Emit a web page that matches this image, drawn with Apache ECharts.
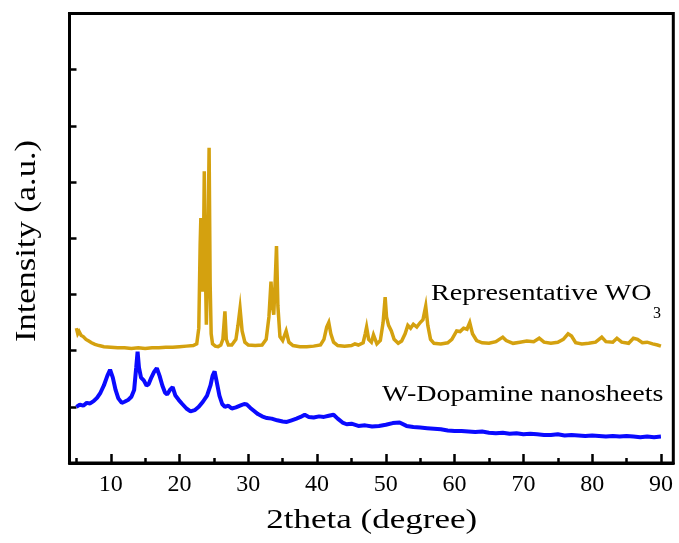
<!DOCTYPE html>
<html>
<head>
<meta charset="utf-8">
<script src="https://cdn.jsdelivr.net/npm/echarts@6/dist/echarts.min.js"></script>
<style>
html,body{margin:0;padding:0;background:#fff;}
#chart{width:679px;height:543px;}
</style>
</head>
<body>
<div id="chart"></div>
<script>
// ---- Data ----
const xTickLabels = [10, 20, 30, 40, 50, 60, 70, 80, 90];
const xMinorTicks = [5, 15, 25, 35, 45, 55, 65, 75, 85];

const wo3Theta = [5.0,5.2,5.4,5.7,6.0,6.4,6.8,7.2,7.7,8.3,9.0,10,11,12,13,14,15,16,17,18,19,20,21,22,22.5,22.8,23.0,23.1,23.25,23.4,23.5,23.6,23.75,23.9,24.1,24.3,24.45,24.6,24.8,25.2,25.6,26.0,26.3,26.6,26.8,27.1,27.6,28.2,28.5,28.8,29.1,29.5,30.0,31.0,32.0,32.6,33.0,33.3,33.5,33.7,33.9,34.1,34.3,34.6,35.0,35.5,35.9,36.5,37.5,38.5,39.5,40.5,41.0,41.4,41.7,42.0,42.4,43.0,44.0,45.0,45.5,46.0,46.7,47.0,47.2,47.5,47.9,48.2,48.4,48.7,49.2,49.6,49.9,50.1,50.4,50.8,51.2,51.8,52.3,52.8,53.2,53.6,54.0,54.5,55.0,55.4,55.8,56.1,56.5,57.0,58.0,59.0,59.6,60.3,60.8,61.3,61.8,62.2,62.6,63.2,64.0,65.0,66.0,67.0,67.5,68.5,69.5,70.5,71.5,72.3,73.0,74.0,75.0,75.8,76.5,77.0,77.6,78.5,79.5,80.5,81.4,82.0,83.0,83.6,84.3,85.3,86.0,86.6,87.3,88.0,88.8,89.5,90.0];
const wo3Intensity = [2.40,2.30,2.34,2.27,2.25,2.20,2.17,2.14,2.11,2.09,2.07,2.06,2.05,2.05,2.04,2.05,2.04,2.05,2.05,2.06,2.06,2.07,2.08,2.09,2.12,2.40,3.90,4.36,3.30,3.05,4.00,5.19,3.50,2.46,3.60,5.61,3.20,2.30,2.12,2.08,2.07,2.10,2.20,2.70,2.20,2.10,2.10,2.20,2.45,2.75,2.35,2.15,2.10,2.09,2.10,2.20,2.60,3.23,2.80,2.64,3.20,3.86,2.80,2.25,2.18,2.35,2.15,2.09,2.07,2.07,2.08,2.10,2.20,2.42,2.50,2.30,2.15,2.09,2.08,2.09,2.12,2.10,2.14,2.30,2.42,2.20,2.15,2.28,2.26,2.12,2.18,2.50,2.95,2.60,2.45,2.35,2.20,2.13,2.17,2.30,2.45,2.40,2.47,2.42,2.50,2.55,2.79,2.45,2.20,2.13,2.12,2.14,2.20,2.35,2.34,2.40,2.38,2.50,2.30,2.18,2.14,2.13,2.16,2.24,2.18,2.13,2.15,2.17,2.16,2.22,2.15,2.13,2.15,2.20,2.30,2.26,2.14,2.12,2.13,2.15,2.24,2.16,2.15,2.22,2.15,2.13,2.22,2.20,2.14,2.15,2.12,2.10,2.08];

const wdaTheta = [5.0,5.5,6.0,6.5,7.0,7.5,8.0,8.5,9.0,9.5,9.9,10.3,10.7,11.1,11.6,12.0,12.5,13.0,13.4,13.7,13.9,14.1,14.4,14.8,15.2,15.5,15.9,16.3,16.7,17.1,17.5,17.9,18.2,18.6,19.0,19.4,19.9,20.4,21.0,21.6,22.2,22.8,23.4,24.0,24.5,24.8,25.1,25.4,25.8,26.2,26.6,27.1,27.6,28.2,28.8,29.4,29.8,30.3,30.8,31.4,32.0,32.7,33.4,34.2,35.0,35.6,36.3,37.0,37.6,38.2,38.8,39.5,40.3,41.0,41.7,42.4,43.0,43.7,44.3,45.0,46.0,47.0,48.0,49.0,50.0,51.0,52.0,53.0,54.0,55.0,56.0,57.0,58.0,59.0,60.0,61.0,62.0,63.0,64.0,65.0,66.0,67.0,68.0,69.0,70.0,71.0,72.0,73.0,74.0,75.0,76.0,77.0,78.0,79.0,80.0,81.0,82.0,83.0,84.0,85.0,86.0,87.0,88.0,89.0,90.0];
const wdaIntensity = [1.00,1.04,1.02,1.07,1.06,1.10,1.16,1.25,1.38,1.55,1.66,1.52,1.30,1.15,1.07,1.09,1.12,1.18,1.30,1.70,1.98,1.70,1.52,1.47,1.38,1.40,1.52,1.62,1.69,1.55,1.38,1.25,1.22,1.30,1.35,1.20,1.12,1.05,0.97,0.92,0.94,1.00,1.09,1.20,1.38,1.55,1.63,1.45,1.20,1.05,1.00,1.02,0.97,0.99,1.02,1.05,1.04,0.98,0.93,0.87,0.83,0.80,0.79,0.76,0.74,0.73,0.76,0.79,0.82,0.86,0.82,0.81,0.83,0.82,0.84,0.86,0.79,0.72,0.69,0.70,0.66,0.67,0.65,0.66,0.68,0.71,0.72,0.66,0.64,0.63,0.62,0.61,0.60,0.58,0.57,0.57,0.56,0.55,0.56,0.54,0.53,0.54,0.52,0.53,0.51,0.52,0.51,0.50,0.50,0.51,0.49,0.50,0.49,0.48,0.49,0.48,0.47,0.48,0.47,0.48,0.47,0.46,0.47,0.46,0.47];

const seriesNames = ['Representative WO3', 'W-Dopamine nanosheets'];
const axisTitles = { x: '2theta (degree)', y: 'Intensity (a.u.)' };

// ---- Chart ----
const zip = (xs, ys) => xs.map((x, i) => [x, ys[i]]);
const serif = '"Liberation Serif", "Times New Roman", serif';
const chart = echarts.init(document.getElementById('chart'), null, { renderer: 'canvas' });

chart.setOption({
  animation: false,
  backgroundColor: '#ffffff',
  grid: { left: 69.5, right: 5.7, top: 13.5, bottom: 80, show: true, borderColor: '#000', borderWidth: 3, containLabel: false },
  xAxis: [
    {
      type: 'value', min: 4, max: 91.8, position: 'bottom',
      axisLine: { show: true, onZero: false, lineStyle: { color: '#000', width: 3 } },
      axisTick: { show: true, inside: true, length: 9, lineStyle: { color: '#000', width: 2.5 }, customValues: xTickLabels },
      axisLabel: { show: true, color: '#000', fontFamily: serif, fontSize: 24, margin: 10, customValues: xTickLabels },
      splitLine: { show: false }
    },
    {
      type: 'value', min: 4, max: 91.8, position: 'bottom',
      axisLine: { show: false, onZero: false },
      axisTick: { show: true, inside: true, length: 5, lineStyle: { color: '#000', width: 2.5 }, customValues: xMinorTicks },
      axisLabel: { show: false },
      splitLine: { show: false }
    }
  ],
  yAxis: {
    type: 'value', min: 0, max: 8, interval: 1,
    axisLine: { show: true, onZero: false, lineStyle: { color: '#000', width: 3 } },
    axisTick: { show: true, inside: true, length: 7, lineStyle: { color: '#000', width: 2.5 } },
    axisLabel: { show: false },
    splitLine: { show: false }
  },
  series: [
    {
      name: seriesNames[0], type: 'line', xAxisIndex: 0, showSymbol: false, sampling: 'none',
      lineStyle: { color: '#d4a10f', width: 3.5, join: 'miter' }, itemStyle: { color: '#d4a10f' },
      data: zip(wo3Theta, wo3Intensity)
    },
    {
      name: seriesNames[1], type: 'line', xAxisIndex: 0, showSymbol: false, sampling: 'none',
      lineStyle: { color: '#0a0aff', width: 4 }, itemStyle: { color: '#0a0aff' },
      data: zip(wdaTheta, wdaIntensity)
    }
  ],
  graphic: [
    { type: 'text', x: 371.7, y: 521, scaleX: 1.25, silent: true,
      style: { text: axisTitles.x, font: '28px ' + serif, fill: '#000', align: 'center', verticalAlign: 'middle' } },
    { type: 'text', x: 27, y: 241, rotation: Math.PI / 2, scaleX: 1.15, silent: true,
      style: { text: axisTitles.y, font: '30px ' + serif, fill: '#000', align: 'center', verticalAlign: 'middle' } },
    { type: 'text', x: 431, y: 293.5, scaleX: 1.17, silent: true,
      style: { text: 'Representative WO', font: '24px ' + serif, fill: '#000', align: 'left', verticalAlign: 'middle' } },
    { type: 'text', x: 653, y: 314, silent: true,
      style: { text: '3', font: '16px ' + serif, fill: '#000', align: 'left', verticalAlign: 'middle' } },
    { type: 'text', x: 382, y: 395, scaleX: 1.17, silent: true,
      style: { text: seriesNames[1], font: '24px ' + serif, fill: '#000', align: 'left', verticalAlign: 'middle' } }
  ]
});
</script>
</body>
</html>
